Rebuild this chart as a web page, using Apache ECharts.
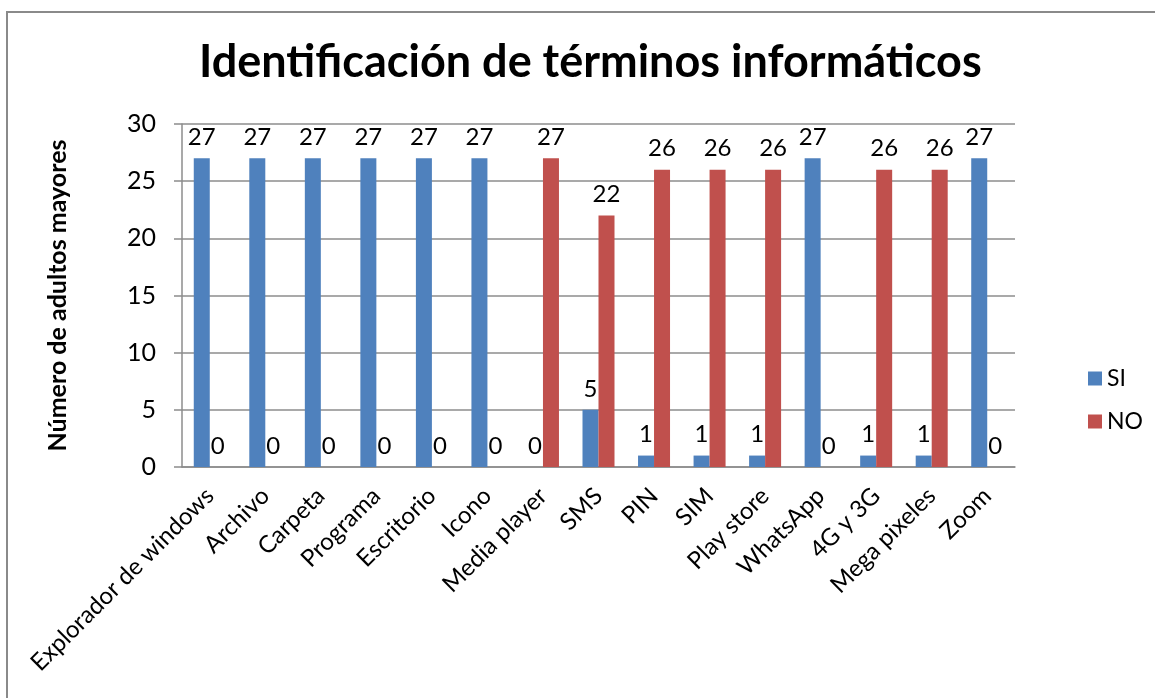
<!DOCTYPE html>
<html>
<head>
<meta charset="utf-8">
<script src="https://cdn.jsdelivr.net/npm/echarts@6/dist/echarts.min.js"></script>
<style>
  html, body { margin: 0; padding: 0; background: #fff; }
  #chart { width: 1155px; height: 698px; }
</style>
</head>
<body>
<div id="chart"></div>
<script>
// datos del gráfico
const categorias = ['Explorador de windows', 'Archivo', 'Carpeta', 'Programa', 'Escritorio', 'Icono',
  'Media player', 'SMS', 'PIN', 'SIM', 'Play store', 'WhatsApp', '4G y 3G', 'Mega pixeles', 'Zoom']
const valoresSi = [27, 27, 27, 27, 27, 27, 0, 5, 1, 1, 1, 27, 1, 1, 27]
const valoresNo = [0, 0, 0, 0, 0, 0, 27, 22, 26, 26, 26, 0, 26, 26, 0]
const ticksY = [0, 5, 10, 15, 20, 25, 30]

const fuente = 'Lato'
const gris = '#8c8c8c'

const chart = echarts.init(document.getElementById('chart'))

const serie = (name, data, color) => ({
  name: name,
  type: 'bar',
  data: data,
  barWidth: 16,
  barGap: '0%',
  itemStyle: { color: color },
  label: {
    show: true,
    position: 'top',
    distance: 9,
    color: '#000',
    fontFamily: fuente,
    fontSize: 24
  }
})

const options = {
  animation: false,
  textStyle: { fontFamily: fuente },
  // --- marco exterior ---
  graphic: [{
    type: 'rect',
    shape: { x: 7, y: 12, width: 1160, height: 700 },
    style: { fill: 'none', stroke: '#8a8a8a', lineWidth: 2 },
    silent: true
  }],
  title: {
    text: 'Identificación de términos informáticos',
    left: 194,
    top: 35,
    textStyle: { fontFamily: fuente, fontSize: 45, fontWeight: 'bold', color: '#000' }
  },
  legend: {
    orient: 'vertical',
    left: 1083,
    top: 362,
    itemWidth: 14,
    itemHeight: 14,
    itemGap: 20,
    icon: 'rect',
    textStyle: { fontFamily: fuente, fontSize: 23, color: '#000' },
    data: ['SI', 'NO']
  },
  grid: {
    left: 182,
    right: 140,
    top: 124,
    bottom: 231,
    containLabel: false
  },
  xAxis: {
    type: 'category',
    data: categorias,
    axisLine: { show: true, lineStyle: { color: gris, width: 1.5 } },
    axisTick: { show: false },
    axisLabel: {
      rotate: 45,
      margin: 25,
      interval: 0,
      color: '#000',
      fontFamily: fuente,
      fontSize: 24
    }
  },
  yAxis: {
    type: 'value',
    min: ticksY[0],
    max: ticksY[ticksY.length - 1],
    interval: 5,
    name: 'Número de adultos mayores',
    nameLocation: 'middle',
    nameGap: 112,
    nameTextStyle: { fontFamily: fuente, fontSize: 25, fontWeight: 'bold', color: '#000' },
    axisLine: { show: true, lineStyle: { color: gris, width: 1.5 } },
    axisTick: { show: true, length: 8, lineStyle: { color: gris, width: 1.5 } },
    axisLabel: { margin: 26, color: '#000', fontFamily: fuente, fontSize: 25 },
    splitLine: { show: true, lineStyle: { color: gris, width: 1.5 } }
  },
  series: [
    serie('SI', valoresSi, '#4F81BD'),
    serie('NO', valoresNo, '#C0504D')
  ]
}

chart.setOption(options)
</script>
</body>
</html>
